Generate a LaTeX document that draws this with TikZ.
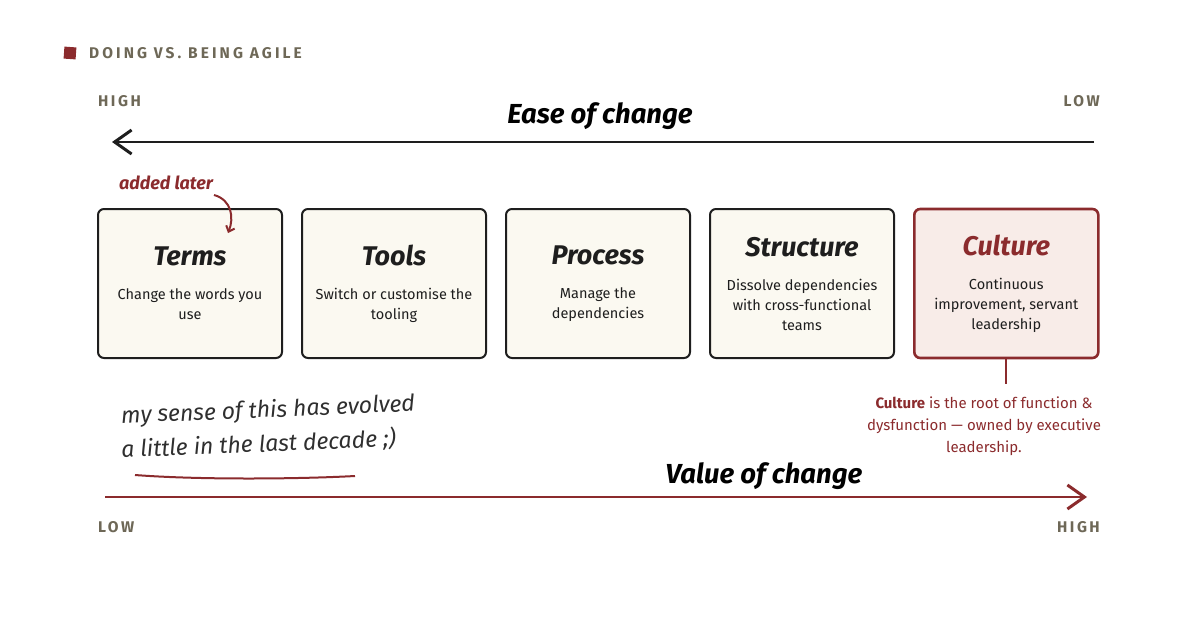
\documentclass[tikz,border=0pt]{standalone}
\usepackage{fontspec}
\setmainfont{Fira Sans}
\newfontfamily\capsfont[LetterSpace=16]{Fira Sans}
\newfontfamily\titlefont[LetterSpace=20]{Fira Sans}
\newfontfamily\handfont{Fira Sans}
\usepackage{xcolor}
\usetikzlibrary{positioning,arrows.meta}
\definecolor{agilered}{HTML}{8B2B2D}
\definecolor{capgray}{HTML}{6E6857}
\definecolor{ink}{HTML}{1E1E1E}
\definecolor{paper}{HTML}{FBF9F1}
\definecolor{blush}{HTML}{F8ECE8}
\definecolor{notegray}{HTML}{2F2F2F}
\newcommand{\stagehead}[1]{{\handfont\fontsize{27}{30}\selectfont\bfseries\itshape #1}\\[14pt]}

\begin{document}
\begin{tikzpicture}[x=1pt, y=-1pt, node distance=18pt,
  stage/.style={draw=ink, line width=2pt, rounded corners=6pt, fill=paper, minimum width=184pt, minimum height=149pt, align=center, inner sep=0pt, text=ink, font=\fontsize{14.5}{20}\selectfont},
  hot/.style={stage, draw=agilered, line width=2.6pt, fill=blush},
  smallcaps/.style={font=\capsfont\fontsize{15.5}{16}\selectfont\bfseries, text=capgray, inner sep=0pt},
  axis/.style={font=\handfont\fontsize{27.5}{30}\selectfont\bfseries\itshape, inner sep=0pt},
  hand/.style={font=\handfont\fontsize{23}{30}\selectfont\itshape, text=notegray, rotate=2.4, anchor=west, inner sep=0pt},
  chev/.style={-{Straight Barb[length=17pt, width=24pt, line width=3pt]}}]
\useasboundingbox (0,0) rectangle (1200,627);
% header
\fill[agilered, rotate around={-4:(70,53)}] (64,47) rectangle (76,59);
\node[smallcaps, font=\titlefont\fontsize{15.5}{16}\selectfont\bfseries, anchor=west] (title) at (89,53) {DOING VS. BEING AGILE};
% ease of change axis
\node[smallcaps, anchor=west] (easehigh) at (98,101) {HIGH};
\node[smallcaps, anchor=east] (easelow) at (1100,101) {LOW};
\node[axis] (ease) at (600,116) {Ease of change};
\coordinate (easeR) at (1094,142);
\coordinate (easeL) at (112,142);
\draw[chev, ink, line width=2pt] (easeR) -- (easeL);
% the five stages
\node[stage] (terms) at (190,283.5) {\stagehead{Terms}Change the words you\\use};
\node[stage, right=of terms] (tools) {\stagehead{Tools}Switch or customise the\\tooling};
\node[stage, right=of tools] (process) {\stagehead{Process}Manage the\\dependencies};
\node[stage, right=of process] (structure) {\stagehead{Structure}Dissolve dependencies\\with cross-functional\\teams};
\node[hot, right=of structure] (culture) {\stagehead{\color{agilered}Culture}Continuous\\improvement, servant\\leadership};
% annotation on Terms
\node[font=\handfont\fontsize{18}{20}\selectfont\bfseries\itshape, text=agilered, inner sep=0pt] (later) at (166,183) {added later};
\coordinate (laterstart) at (214,195);
\coordinate (laterend) at (228,233);
\draw[-{Straight Barb[length=5pt, width=9pt]}, agilered, line width=2pt] (laterstart) .. controls (232,200) and (234,218) .. (laterend);
% culture note
\draw[agilered, line width=2pt] (culture.south) -- ++(0,25) coordinate (noteTop);
\node[align=center, text=agilered, font=\fontsize{15}{22}\selectfont] (rootnote) at (984,426) {\textbf{Culture} is the root of function \&\\dysfunction --- owned by executive\\leadership.};
% hand note
\node[hand] (handA) at (121,417) {my sense of this has evolved};
\node[hand] (handB) at (121,450) {a little in the last decade ;)};
\coordinate (ulA) at (135,475);
\coordinate (ulB) at (355,476);
\draw[agilered, line width=2pt] (ulA) .. controls (200,480) and (300,479) .. (ulB);
% value of change axis
\node[axis] (value) at (764,476) {Value of change};
\coordinate (valueL) at (105,497);
\coordinate (valueR) at (1087,497);
\draw[chev, agilered, line width=2pt] (valueL) -- (valueR);
\node[smallcaps, anchor=west] (valuelow) at (98,527) {LOW};
\node[smallcaps, anchor=east] (valuehigh) at (1100,527) {HIGH};
\end{tikzpicture}
\end{document}
